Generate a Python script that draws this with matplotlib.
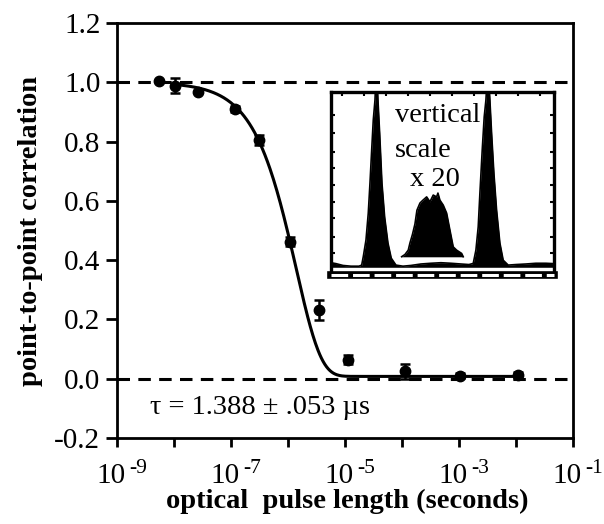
import numpy as np
import matplotlib
matplotlib.use("Agg")
import matplotlib.pyplot as plt
from matplotlib.ticker import NullLocator

plt.rcParams['font.family'] = ['Liberation Serif', 'DejaVu Serif']
plt.rcParams['lines.scale_dashes'] = False

# measured correlation vs optical pulse length
pulse = [5.5e-9, 1.05e-8, 2.6e-8, 1.17e-7, 3.1e-7, 1.07e-6, 3.5e-6, 1.15e-5, 1.15e-4, 1.05e-3, 1.07e-2]
corr = [1.004, 0.988, 0.967, 0.911, 0.805, 0.462, 0.232, 0.064, 0.025, 0.010, 0.012]
corr_err = [0.0, 0.025, 0.0, 0.010, 0.017, 0.015, 0.034, 0.015, 0.025, 0.008, 0.010]

# fitted decay constant (seconds) and residual floor
tau = 1.388e-6
floor = 0.008

# inset: arrival-time histogram (channel, normalised counts)
trace_ch = [0, 5, 12, 20, 28, 30.7, 32.3, 35, 37.3, 39, 40.7, 42.3, 44, 45.5, 47, 48.7,
            51, 53.7, 57, 60.3, 65, 72, 80, 90, 100, 110, 120, 130, 138, 142.3, 145,
            147.3, 149, 151.3, 153.3, 155, 157, 159, 160.7, 163, 165.7, 169, 172.3,
            177.3, 185, 195, 205, 215, 223]
trace_counts = [0.065, 0.060, 0.050, 0.046, 0.046, 0.052, 0.098, 0.189, 0.337, 0.501,
                0.682, 0.847, 0.956, 1.150, 0.956, 0.775, 0.501, 0.315, 0.173, 0.090,
                0.052, 0.046, 0.050, 0.058, 0.062, 0.065, 0.062, 0.058, 0.055, 0.061,
                0.134, 0.262, 0.447, 0.682, 0.865, 0.956, 1.150, 0.956, 0.775, 0.556,
                0.353, 0.173, 0.079, 0.052, 0.055, 0.058, 0.062, 0.062, 0.060]
# central region shown magnified x20
mid_ch = [70.7, 74, 77.3, 79, 81.5, 84, 86, 89, 92, 95.7, 99, 102.3, 105.7, 107, 109,
          112.3, 115.7, 119, 122.3, 125.7, 130.7, 132.3]
mid_counts = [0.098, 0.110, 0.134, 0.173, 0.220, 0.277, 0.353, 0.392, 0.408, 0.426,
              0.399, 0.436, 0.426, 0.447, 0.408, 0.381, 0.337, 0.244, 0.152, 0.134,
              0.116, 0.098]
mid_base = 0.0975

fig = plt.figure(figsize=(6.04, 5.24), dpi=100)
ax = fig.add_axes([0.1937, 0.164, 0.755, 0.792])

ax.axhline(1.0, color='k', lw=2.2, dashes=(9, 6), zorder=1)
ax.axhline(0.0, color='k', lw=2.2, dashes=(9, 6), zorder=1)

t_fit = np.logspace(-8, -2, 400)
c_fit = floor + (1 - floor) * np.exp(-t_fit / tau)
ax.plot(t_fit, c_fit, color='k', lw=2.2, zorder=2)

ax.errorbar(pulse, corr, yerr=corr_err, fmt='o', color='k', ms=7.5,
            capsize=3.5, elinewidth=1.8, capthick=1.8, zorder=3)

ax.set_xscale('log')
ax.set_xlim(1e-9, 1e-1)
ax.set_ylim(-0.2, 1.2)

# decade ticks; every other one gets a "10" with a raised exponent
decades = list(range(-9, 0))
ax.set_xticks([10.0 ** k for k in decades])
ax.set_xticklabels([])
ax.xaxis.set_minor_locator(NullLocator())
for k in decades:
    if k % 2:
        ax.annotate('10', xy=(10.0 ** k, 0), xycoords=('data', 'axes fraction'),
                    xytext=(9, -45), textcoords='offset pixels',
                    ha='right', va='baseline', fontsize=21, annotation_clip=False)
        ax.annotate(f'-{abs(k)}', xy=(10.0 ** k, 0), xycoords=('data', 'axes fraction'),
                    xytext=(12, -35), textcoords='offset pixels',
                    ha='left', va='baseline', fontsize=15.5, annotation_clip=False)

yvals = [-0.2, 0.0, 0.2, 0.4, 0.6, 0.8, 1.0, 1.2]
ax.set_yticks(yvals)
ax.set_yticklabels([f'{v:.1f}' for v in yvals])

for s in ax.spines.values():
    s.set_linewidth(2)
ax.tick_params(axis='both', direction='out', width=2, labelsize=21)
ax.tick_params(axis='x', length=6.5)
ax.tick_params(axis='y', length=8, pad=4)

ax.set_xlabel('optical  pulse length (seconds)', fontsize=20.5, fontweight='bold')
ax.set_ylabel('point-to-point correlation', fontsize=20.5, fontweight='bold')
ax.xaxis.set_label_coords(0.505, -0.122)
ax.yaxis.set_label_coords(-0.162, 0.5)

ax.text(0.072, 0.058, '\u03c4 = 1.388 \u00b1 .053 \u00b5s', transform=ax.transAxes,
        fontsize=20.5, ha='left', va='baseline')

# inset histogram
ins = fig.add_axes([0.548, 0.476, 0.369, 0.348])
ins.set_xlim(0, 223)
ins.set_ylim(0, 1)
ins.fill_between(trace_ch, 0.04, trace_counts, color='k', lw=0)
ins.plot(trace_ch, trace_counts, color='k', lw=1.2)
ins.fill_between(mid_ch, mid_base, mid_counts, color='k', lw=0)
ins.plot(mid_ch, mid_counts, color='k', lw=1.2)

for name in ['left', 'right', 'top']:
    ins.spines[name].set_linewidth(2.4)
ins.spines['bottom'].set_linewidth(5.5)
ins.axhline(0, color='white', lw=2.2, dashes=(12, 3.5), clip_on=False, zorder=5)

ins.set_xticks(np.arange(11, 223, 22))
ins.set_yticks([0.117, 0.205, 0.310, 0.397, 0.490, 0.584, 0.671, 0.775, 0.874])
ins.tick_params(direction='in', length=3, width=1.5, left=True, right=True,
                top=True, bottom=False, labelleft=False, labelbottom=False)

ins.text(0.287, 0.836, 'vertical', transform=ins.transAxes, fontsize=20.5,
         ha='left', va='baseline', zorder=6)
ins.text(0.287, 0.644, 'scale', transform=ins.transAxes, fontsize=20.5,
         ha='left', va='baseline', zorder=6)
ins.text(0.354, 0.485, 'x 20', transform=ins.transAxes, fontsize=20.5,
         ha='left', va='baseline', zorder=6)

fig.savefig('out.png', dpi=100)
